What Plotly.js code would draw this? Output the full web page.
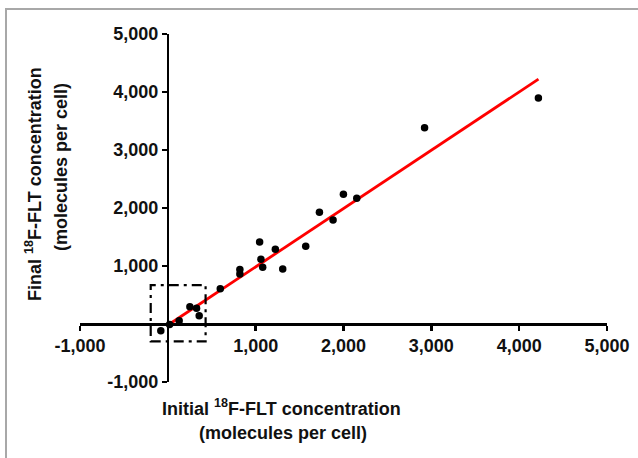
<!DOCTYPE html>
<html>
<head>
<meta charset="utf-8">
<script src="https://cdn.plot.ly/plotly-3.0.1.min.js"></script>
<style>
  html, body { margin: 0; padding: 0; background: #fff; }
  #frame { position: absolute; left: 5px; top: 8px; width: 640px; height: 460px;
           border-left: 2px solid #a8a8a8; border-top: 2px solid #a8a8a8; }
  #chart { position: absolute; left: 0; top: 0; width: 638px; height: 458px; }
</style>
</head>
<body>
<div id="frame"></div>
<div id="chart"></div>
<script>
// Data points (initial vs final 18F-FLT, molecules per cell)
const initialConc = [4219, 2923, 1999, 2151, 1726, 1881, 1045, 1224, 1570, 1060, 1080, 1308, 820, 820, 597, 251, 327, 357, 129, -80, 20];
const finalConc   = [3897, 3384, 2236, 2167, 1925, 1793, 1414, 1287, 1339, 1115, 978, 948, 940, 860, 609, 299, 271, 143, 57, -116, -10];

// Regression line end points
const fitX = [20, 4220];
const fitY = [0, 4222];

// Dash-dot box around low values
const boxX = [-195, 430];
const boxY = [-300, 670];

// Ticks
const tickVals = [-1000, 1000, 2000, 3000, 4000, 5000];
const tickText = ['-1,000', '1,000', '2,000', '3,000', '4,000', '5,000'];

const fontFam = 'Liberation Sans, Arial, sans-serif';
const tickFont = {family: fontFam, size: 18, color: '#111', weight: 'bold'};
const titleFont = {family: fontFam, size: 18, color: '#111', weight: 'bold'};

const traces = [
  {x: fitX, y: fitY, mode: 'lines', line: {color: '#ff0000', width: 2.8}, hoverinfo: 'skip'},
  {x: initialConc, y: finalConc, mode: 'markers', marker: {color: '#000', size: 7.5}}
];

const axisCommon = {
  range: [-1000, 5000], autorange: false,
  anchor: 'free', position: 1/6,
  showline: true, linecolor: '#000', linewidth: 2.5,
  showgrid: false, zeroline: false,
  ticks: 'outside', ticklen: 5, tickwidth: 2.5, tickcolor: '#000',
  tickmode: 'array', tickvals: tickVals, ticktext: tickText,
  tickfont: tickFont
};

const layout = {
  width: 638, height: 458,
  margin: {l: 80, r: 31, t: 34, b: 76},
  paper_bgcolor: 'rgba(0,0,0,0)', plot_bgcolor: 'rgba(0,0,0,0)',
  showlegend: false,
  xaxis: Object.assign({}, axisCommon),
  yaxis: Object.assign({}, axisCommon),
  shapes: [{
    type: 'rect', xref: 'x', yref: 'y',
    x0: boxX[0], x1: boxX[1], y0: boxY[0], y1: boxY[1],
    line: {color: '#000', width: 2.2, dash: '10px,5px,3px,5px'}
  }],
  annotations: [
    {text: 'Initial <sup>18</sup>F-FLT concentration', xref: 'paper', yref: 'paper',
     x: (281 - 80) / 527, y: (458 - 76 - 407) / 348, showarrow: false,
     xanchor: 'center', yanchor: 'middle', font: titleFont},
    {text: '(molecules per cell)', xref: 'paper', yref: 'paper',
     x: (283 - 80) / 527, y: (458 - 76 - 433) / 348, showarrow: false,
     xanchor: 'center', yanchor: 'middle', font: titleFont},
    {text: 'Final <sup>18</sup>F-FLT concentration', xref: 'paper', yref: 'paper',
     x: (33 - 80) / 527, y: (382 - 184) / 348, showarrow: false, textangle: -90,
     xanchor: 'center', yanchor: 'middle', font: titleFont},
    {text: '(molecules per cell)', xref: 'paper', yref: 'paper',
     x: (61 - 80) / 527, y: (382 - 167) / 348, showarrow: false, textangle: -90,
     xanchor: 'center', yanchor: 'middle', font: titleFont}
  ]
};

Plotly.newPlot('chart', traces, layout, {displayModeBar: false, staticPlot: true});
</script>
</body>
</html>
